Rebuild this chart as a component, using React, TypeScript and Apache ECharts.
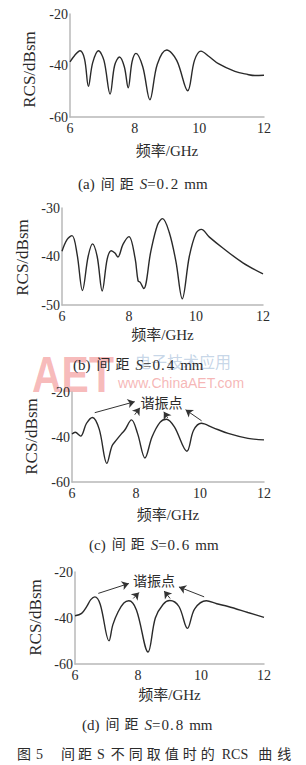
import React, { useEffect, useRef } from 'react';
import * as echarts from 'echarts';

// ---------- data ----------
const freqA = [6.0, 6.15, 6.31, 6.45, 6.57, 6.7, 6.88, 7.05, 7.24, 7.38, 7.53, 7.68, 7.8, 7.92, 8.04, 8.25, 8.47, 8.7, 8.99, 9.3, 9.64, 9.85, 10.05, 10.3, 10.59, 11.1, 11.5, 11.72, 12.0];
const rcsA = [-38.6, -36.0, -34.3, -37.5, -48.1, -39.0, -34.3, -38.0, -51.1, -40.0, -36.7, -40.5, -48.7, -38.5, -35.3, -40.5, -53.3, -39.5, -34.0, -38.0, -49.8, -38.0, -34.4, -36.5, -39.3, -42.3, -43.5, -43.9, -43.8];

const freqB = [6.0, 6.15, 6.3, 6.45, 6.61, 6.78, 6.91, 7.05, 7.2, 7.35, 7.47, 7.58, 7.67, 7.82, 8.0, 8.18, 8.27, 8.33, 8.44, 8.65, 8.85, 9.0, 9.2, 9.4, 9.59, 9.8, 10.0, 10.16, 10.4, 10.81, 11.4, 12.0];
const rcsB = [-38.9, -36.5, -35.7, -39.5, -47.0, -40.0, -37.4, -40.0, -47.1, -40.5, -38.8, -39.3, -40.1, -37.5, -35.9, -40.3, -45.0, -45.3, -46.6, -39.0, -33.5, -32.2, -35.0, -41.0, -48.7, -40.0, -35.2, -34.4, -36.0, -38.3, -41.3, -43.6];

const freqC = [6.0, 6.1, 6.27, 6.45, 6.64, 6.85, 7.09, 7.25, 7.39, 7.55, 7.65, 7.86, 8.05, 8.28, 8.5, 8.75, 8.95, 9.2, 9.59, 9.8, 10.04, 10.4, 10.88, 11.5, 12.0];
const rcsC = [-38.7, -37.9, -39.6, -34.0, -31.3, -36.5, -51.7, -44.0, -41.3, -38.5, -36.9, -32.4, -38.5, -49.3, -40.0, -33.5, -32.1, -35.5, -46.3, -37.0, -33.9, -35.8, -38.4, -40.6, -41.3];

const freqD = [6.0, 6.21, 6.37, 6.5, 6.63, 6.8, 7.08, 7.2, 7.37, 7.55, 7.71, 7.95, 8.32, 8.55, 8.8, 9.01, 9.3, 9.57, 9.8, 10.17, 10.5, 10.86, 11.49, 12.0];
const rcsD = [-39.0, -38.0, -35.1, -32.0, -30.8, -34.0, -49.9, -43.0, -37.3, -33.5, -32.5, -36.5, -54.8, -40.0, -34.0, -32.4, -35.0, -44.5, -36.0, -32.5, -33.8, -35.0, -37.6, -39.7];

const xRange = [6, 12, 2];
const yRanges = [
  [-60, -20, 20],
  [-50, -30, 10],
  [-60, -20, 20],
  [-60, -20, 20],
];

// resonance annotation arrows [from, to] in data units
const arrowsC = [
  [[6.71, -29.2], [7.96, -24.3]],
  [[7.96, -30.1], [8.12, -27.0]],
  [[8.99, -31.5], [8.87, -28.8]],
  [[10.05, -32.8], [9.55, -27.9]],
];
const labelC = [8.8, -25.2];
const arrowsD = [
  [[6.74, -29.3], [7.71, -25.0]],
  [[7.85, -31.5], [8.03, -28.9]],
  [[9.02, -31.5], [8.83, -28.3]],
  [[10.1, -30.8], [9.3, -26.5]],
];
const labelD = [8.51, -24.0];

const captionTags = ['(a)', '(b)', '(c)', '(d)'];
const spacingValues = ['0', '0', '0', '0'];
const spacingDecimals = ['2', '4', '6', '8'];
const resonanceText = '谐振点';
const xName = '频率/GHz';
const yName = 'RCS/dBsm';

// ---------- layout ----------
const FONT = '"Liberation Serif", "Times New Roman", "Noto Sans CJK SC", serif';
const CJK = '"Liberation Serif", "Noto Sans CJK SC", serif';
const TXT = '#2b2b2b';

const grids = [
  { left: 70, top: 14, width: 194, height: 103 },
  { left: 62, top: 208, width: 201, height: 97 },
  { left: 72, top: 392, width: 192, height: 90 },
  { left: 75, top: 572, width: 189, height: 92 },
];
const xNameGaps = [26, 22, 25, 23];
const yNamePos = [
  [29, 69.5],
  [22, 257.5],
  [31.5, 436.5],
  [35, 617.5],
];
const captionPos = [
  [78, 184],
  [73, 364.5],
  [89, 544.5],
  [82, 724.5],
];

export default function App() {
  const ref = useRef<HTMLDivElement>(null);
  useEffect(() => {
    if (!ref.current) return;
    const chart = echarts.init(ref.current, undefined, { renderer: 'svg' });
    const seriesData = [
      freqA.map((f, i) => [f, rcsA[i]]),
      freqB.map((f, i) => [f, rcsB[i]]),
      freqC.map((f, i) => [f, rcsC[i]]),
      freqD.map((f, i) => [f, rcsD[i]]),
    ];

    const mkArrows = (arr: number[][][]) => ({
      silent: true,
      symbol: ['none', 'arrow'],
      symbolSize: 7,
      label: { show: false },
      lineStyle: { color: '#333', width: 1, type: 'solid' },
      itemStyle: { color: '#333' },
      emphasis: { disabled: true },
      data: arr.map((a) => [{ coord: a[0] }, { coord: a[1] }]),
    });

    const series: any[] = seriesData.map((d, i) => {
      const s: any = {
        type: 'line',
        xAxisIndex: i,
        yAxisIndex: i,
        data: d,
        smooth: 0.35,
        symbol: 'none',
        silent: true,
        lineStyle: { color: '#2a2a2a', width: 1.4 },
        z: 3,
      };
      if (i === 2) s.markLine = mkArrows(arrowsC);
      if (i === 3) s.markLine = mkArrows(arrowsD);
      return s;
    });

    const graphic: any[] = [
      // watermark
      {
        type: 'text',
        x: 32,
        y: 350,
        scaleX: 0.82,
        z: -10,
        silent: true,
        style: {
          text: 'AET',
          fontSize: 50,
          fontWeight: 'bold',
          fontFamily: '"Liberation Sans", Arial, sans-serif',
          fill: 'rgba(236,90,90,0.42)',
        },
      },
      {
        type: 'text',
        x: 135,
        y: 353,
        z: -10,
        silent: true,
        style: {
          text: '电子技术应用',
          fontSize: 16,
          fontFamily: '"Noto Sans CJK SC", sans-serif',
          fill: 'rgba(110,150,195,0.4)',
        },
      },
      {
        type: 'text',
        x: 118,
        y: 376,
        z: -10,
        silent: true,
        style: {
          text: 'www.ChinaAET.com',
          fontSize: 14,
          fontFamily: '"Liberation Sans", Arial, sans-serif',
          fill: 'rgba(236,110,110,0.5)',
        },
      },
    ];

    // y-axis titles (rotated)
    yNamePos.forEach(([x, y]) => {
      graphic.push({
        type: 'text',
        x,
        y,
        rotation: Math.PI / 2,
        style: {
          text: yName,
          align: 'center',
          verticalAlign: 'middle',
          fontSize: 17,
          fontFamily: FONT,
          fill: TXT,
        },
      });
    });

    const latin = { fontSize: 15, fontFamily: FONT, fill: TXT };
    const cjk = { fontSize: 14, fontFamily: CJK, fill: TXT };
    captionTags.forEach((c, i) => {
      graphic.push({
        type: 'text',
        x: captionPos[i][0],
        y: captionPos[i][1],
        style: {
          text:
            `{p|${c}}{c|间}{c2|距}{s|S}{n|=}{d|${spacingValues[i]}}{d|.}{d2|${spacingDecimals[i]}}{u|mm}`,
          align: 'left',
          verticalAlign: 'middle',
          rich: {
            p: { ...latin, padding: [0, 2, 0, 0] },
            c: { ...cjk, padding: [0, 0, 0, 4] },
            c2: { ...cjk, padding: [0, 0, 0, 5] },
            s: { ...latin, fontStyle: 'italic', padding: [0, 0, 0, 6] },
            n: { ...latin },
            d: { ...latin, padding: [0, 0, 0, 1] },
            d2: { ...latin, padding: [0, 0, 0, 2] },
            u: { ...latin, padding: [0, 0, 0, 6] },
          },
        },
      });
    });

    // figure caption: 图 5  间距 S 不同取值时的 RCS 曲线
    const capTokens: [string, string, number][] = [
      ['图', 'c', 0], ['5', 'l', 5], ['间', 'c', 18], ['距', 'c', 3], ['S', 'l', 5],
      ['不', 'c', 6], ['同', 'c', 4], ['取', 'c', 4], ['值', 'c', 4], ['时', 'c', 4],
      ['的', 'c', 4], ['RCS', 'l', 7], ['曲', 'c', 10], ['线', 'c', 5],
    ];
    const capRich: any = {};
    let capText = '';
    capTokens.forEach(([t, kind, pad], k) => {
      const key = 't' + k;
      capRich[key] =
        kind === 'c'
          ? { fontSize: 14, fontFamily: CJK, fill: TXT, padding: [0, 0, 0, pad] }
          : { fontSize: 14, fontFamily: FONT, fill: TXT, padding: [0, 0, 0, pad] };
      capText += `{${key}|${t}}`;
    });
    graphic.push({
      type: 'text',
      x: 17,
      y: 754,
      style: { text: capText, rich: capRich, align: 'left', verticalAlign: 'middle' },
    });

    chart.setOption({
      animation: false,
      backgroundColor: '#ffffff',
      grid: grids,
      xAxis: grids.map((_, i) => ({
        type: 'value',
        gridIndex: i,
        min: xRange[0],
        max: xRange[1],
        interval: xRange[2],
        name: xName,
        nameLocation: 'middle',
        nameGap: xNameGaps[i],
        nameTextStyle: { fontSize: 15, fontFamily: CJK, color: TXT },
        axisLine: { show: true, lineStyle: { color: '#b8b8b8', width: 1.5 } },
        axisTick: { show: false },
        splitLine: { show: false },
        axisLabel: { fontSize: 14, fontFamily: FONT, color: TXT, margin: 4 },
      })),
      yAxis: grids.map((_, i) => ({
        type: 'value',
        gridIndex: i,
        min: yRanges[i][0],
        max: yRanges[i][1],
        interval: yRanges[i][2],
        axisLine: { show: true, lineStyle: { color: '#b8b8b8', width: 1.5 } },
        axisTick: { show: false },
        splitLine: { show: false },
        axisLabel: { fontSize: 14, fontFamily: FONT, color: TXT, margin: 2 },
      })),
      series,
      graphic,
    });

    // resonance labels placed at data coordinates
    const labels = [
      { grid: 2, p: labelC },
      { grid: 3, p: labelD },
    ].map(({ grid, p }) => {
      const px = chart.convertToPixel({ gridIndex: grid } as any, p) as number[];
      return {
        type: 'text',
        x: px[0],
        y: px[1],
        style: {
          text: resonanceText,
          align: 'center',
          verticalAlign: 'middle',
          fontSize: 14,
          fontFamily: CJK,
          fill: TXT,
        },
      };
    });
    chart.setOption({ graphic: [...graphic, ...labels] });

    return () => chart.dispose();
  }, []);
  return (
    <div
      ref={ref}
      style={{ position: 'absolute', left: 0, top: 0, width: 306, height: 765, background: '#fff' }}
    />
  );
}
